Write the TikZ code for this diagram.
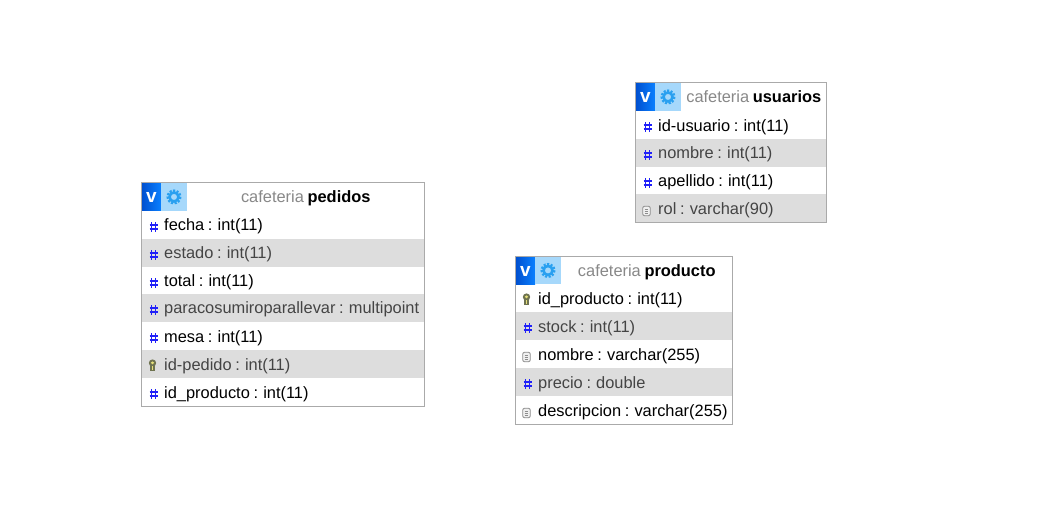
\documentclass[tikz,border=0pt]{standalone}
\usepackage{fontspec}
\setmainfont[WordSpace=0.8]{Liberation Sans}
\definecolor{rowgray}{HTML}{DDDDDD}
\definecolor{framegray}{HTML}{AAAAAA}
\definecolor{titlegray}{HTML}{888888}
\definecolor{dimtext}{HTML}{444444}
\definecolor{hashblue}{HTML}{2020F8}
\definecolor{vleft}{HTML}{0050D0}
\definecolor{vright}{HTML}{0A80FF}
\definecolor{gearbg}{HTML}{A6D8FB}
\definecolor{gearblue}{HTML}{2AA0F0}
\definecolor{keyolive}{HTML}{6F7350}
\definecolor{keyyellow}{HTML}{E6E07A}
\tikzset{
  x=1pt,y=-1pt,
  frame/.style={draw=framegray,line width=1pt},
  field/.style={anchor=base west,inner sep=0pt,font=\fontsize{16.4}{16.4}\selectfont,text=black},
  dimfield/.style={field,text=dimtext},
  titletext/.style={anchor=base,inner sep=0pt,font=\fontsize{16.4}{16.4}\selectfont},
}
\newcommand{\tfix}{0}
% icons, centred at the given position
\newcommand{\hashicon}[2]{%
  \begin{scope}[shift={(#1,#2)}]
    \draw[hashblue,line width=1.2pt] (-1.7,-4.7)--(-1.7,4.7) (1.7,-4.7)--(1.7,4.7);
    \draw[hashblue,line width=1.7pt] (-4,-1.7)--(4,-1.7) (-4,1.7)--(4,1.7);
  \end{scope}}
\newcommand{\keyicon}[2]{%
  \begin{scope}[shift={(#1,#2)}]
    \fill[keyolive] (0,-2) ellipse (3.7 and 3.6);
    \fill[keyolive] (-2.4,0) rectangle (2.4,5.6);
    \fill[keyyellow] (0,-2.2) ellipse (1.6 and 1.5);
    \fill[keyyellow] (-.9,1) rectangle (.9,4.6);
  \end{scope}}
\newcommand{\docicon}[2]{%
  \begin{scope}[shift={(#1,#2)}]
    \draw[black!45,line width=.8pt,fill=black!6,rounded corners=2pt] (-3.8,-4.8) rectangle (3.8,4.8);
    \draw[black!45,line width=.8pt] (-1.8,-1.6)--(1.8,-1.6) (-1.8,.6)--(1.8,.6) (-1.8,2.8)--(1.8,2.8);
  \end{scope}}
% \tabla{id}{left}{top}{right}{header bottom}{schema}{name}
\newcommand{\tabla}[7]{%
  \fill[left color=vleft,right color=vright] (#2+.5,#3+.5) rectangle (#2+19.5,#5);
  \fill[gearbg] (#2+19.5,#3+.5) rectangle (#2+45.5,#5);
  \node[inner sep=0pt,text=white,font=\bfseries\fontsize{19}{19}\selectfont] (#1-v) at (#2+10,{(#3+#5)/2+.8}) {v};
  \draw[gearblue,line width=3pt,dash pattern=on 2pt off 1.4pt] (#2+32.5,{(#3+#5)/2+.2}) circle (6);
  \draw[gearblue,line width=2.6pt] (#2+32.5,{(#3+#5)/2+.2}) circle (4.5);
  \node[titletext] (#1-title) at ({(#2+45.5+#4)/2},#5-8) {\textcolor{titlegray}{#6} \textbf{#7}};
}
% \fila{id}{n}{left}{right}{row top}{shaded 0/1}{icon}{text}
\newcommand{\fila}[8]{%
  \ifnum#6=1 \fill[rowgray] (#3+.5,#5) rectangle (#4-.5,#5+28); \fi
  \ifnum#7=0 \hashicon{#3+12}{#5+16}\fi
  \ifnum#7=1 \keyicon{#3+11}{#5+15}\fi
  \ifnum#7=2 \docicon{#3+11}{#5+17}\fi
  \ifnum#6=1
    \node[dimfield] (#1-#2) at (#3+22.5,#5+20.4+\tfix) {#8};
  \else
    \node[field] (#1-#2) at (#3+22.5,#5+20.4+\tfix) {#8};
  \fi
}
\begin{document}
\begin{tikzpicture}
\useasboundingbox (0,0) rectangle (1043,529);
\fill[white] (0,0) rectangle (1043,529);
% pedidos
\tabla{ped}{141.5}{182.5}{424.5}{211}{cafeteria}{pedidos}
\renewcommand{\tfix}{-0.7}
\fila{ped}{1}{141.5}{424.5}{211}{0}{0}{fecha : int(11)}
\fila{ped}{2}{141.5}{424.5}{239}{1}{0}{estado : int(11)}
\fila{ped}{3}{141.5}{424.5}{267}{0}{0}{total : int(11)}
\fila{ped}{4}{141.5}{424.5}{294}{1}{0}{paracosumiroparallevar : multipoint}
\renewcommand{\tfix}{0}
\fila{ped}{5}{141.5}{424.5}{322}{0}{0}{mesa : int(11)}
\fila{ped}{6}{141.5}{424.5}{350}{1}{1}{id-pedido : int(11)}
\fila{ped}{7}{141.5}{424.5}{378}{0}{0}{id\_producto : int(11)}
\draw[frame] (141.5,182.5) rectangle (424.5,406.5);
% producto
\tabla{pro}{515.5}{256.5}{732.5}{284}{cafeteria}{producto}
\fila{pro}{1}{515.5}{732.5}{284}{0}{1}{id\_producto : int(11)}
\fila{pro}{2}{515.5}{732.5}{312}{1}{0}{stock : int(11)}
\fila{pro}{3}{515.5}{732.5}{340}{0}{2}{nombre : varchar(255)}
\fila{pro}{4}{515.5}{732.5}{368}{1}{0}{precio : double}
\fila{pro}{5}{515.5}{732.5}{396}{0}{2}{descripcion : varchar(255)}
\draw[frame] (515.5,256.5) rectangle (732.5,424.5);
% usuarios
\tabla{usu}{635.5}{82.5}{826.5}{111}{cafeteria}{usuarios}
\fila{usu}{1}{635.5}{826.5}{111}{0}{0}{id-usuario : int(11)}
\renewcommand{\tfix}{-0.7}
\fila{usu}{2}{635.5}{826.5}{139}{1}{0}{nombre : int(11)}
\fila{usu}{3}{635.5}{826.5}{167}{0}{0}{apellido : int(11)}
\renewcommand{\tfix}{0}
\fila{usu}{4}{635.5}{826.5}{194}{1}{2}{rol : varchar(90)}
\draw[frame] (635.5,82.5) rectangle (826.5,222.5);
\end{tikzpicture}
\end{document}
